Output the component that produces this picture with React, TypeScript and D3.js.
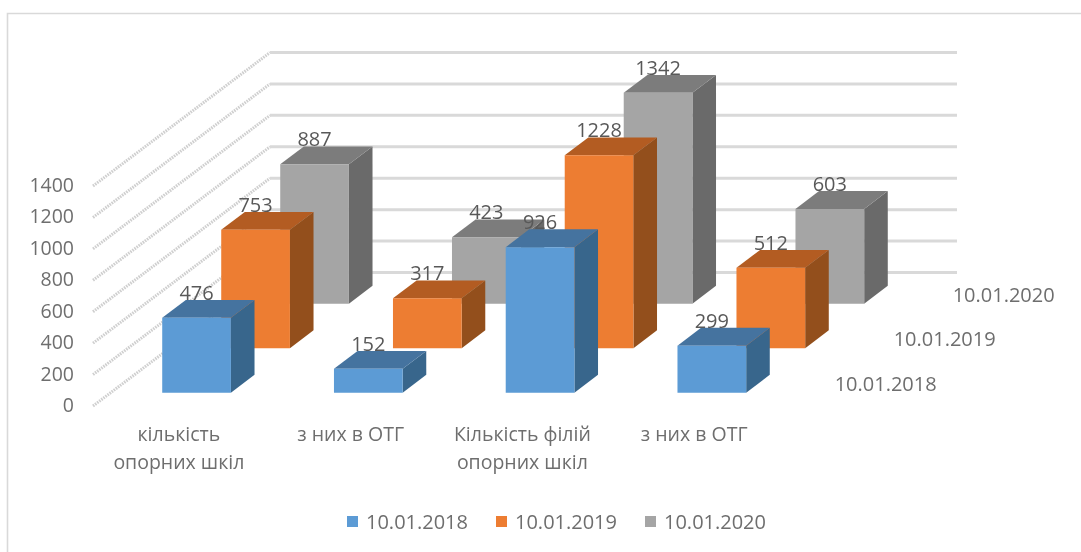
import React, { useEffect, useRef } from "react";
import * as d3 from "d3";

const categories = ["кількість опорних шкіл", "з них в ОТГ", "Кількість філій опорних шкіл", "з них в ОТГ "];
const categoryLines = [["кількість", "опорних шкіл"], ["з них в ОТГ"], ["Кількість філій", "опорних шкіл"], ["з них в ОТГ"]];
const seriesNames = ["10.01.2018", "10.01.2019", "10.01.2020"];
const values2018 = [476, 152, 926, 299];
const values2019 = [753, 317, 1228, 512];
const values2020 = [887, 423, 1342, 603];
const allValues = [values2018, values2019, values2020];
const yTicks = [0, 200, 400, 600, 800, 1000, 1200, 1400];

const frontColors = ["#5b9bd5", "#ed7d31", "#a5a5a5"];
const topColors = ["#44739f", "#b35c20", "#7c7c7c"];
const sideColors = ["#38668c", "#934f1b", "#6a6a6a"];
const legendColors = ["#5b9bd5", "#ed7d31", "#a5a5a5"];

const FONT = "'Open Sans', sans-serif";

const App = () => {
  const svgRef = useRef<SVGSVGElement>(null);

  useEffect(() => {
    const root = d3.select(svgRef.current);
    root.selectAll("*").remove();

    // the reference is a slightly soft screenshot
    root.append("defs")
      .append("filter")
      .attr("id", "soft")
      .attr("filterUnits", "userSpaceOnUse")
      .attr("x", 0)
      .attr("y", 0)
      .attr("width", 1081)
      .attr("height", 552)
      .append("feGaussianBlur")
      .attr("stdDeviation", 0.45);

    const svg = root.append("g").attr("filter", "url(#soft)");

    // projection of the 3D box: origin is the front-left floor corner
    const originX = 93;
    const originY = 406;
    const depthX = 177;
    const depthY = -133.5;

    const x = d3.scaleBand().domain(categories).range([0, 687]).paddingInner(0.6).paddingOuter(0.3);
    const z = d3.scaleBand().domain(seriesNames).range([0, 1]).paddingInner(0.6).paddingOuter(0.3);
    const y = d3.scaleLinear().domain([0, 1400]).range([0, -220]);

    const project = (px: number, pz: number, v: number): [number, number] => [
      originX + px + pz * depthX,
      originY + pz * depthY + y(v),
    ];
    const poly = (pts: [number, number][]) => pts.map((p) => p.join(",")).join(" ");

    // only the top and left edges of the chart frame are in the picture
    svg.append("path")
      .attr("d", "M7.5,552V13.5H1081")
      .attr("fill", "none")
      .attr("stroke", "#d9d9d9")
      .attr("stroke-width", 1.6);

    // gridlines: hatched on the side wall, solid on the back wall
    yTicks.forEach((t) => {
      const a = project(0, 0, t);
      const b = project(0, 1, t);
      const c = project(687, 1, t);
      svg.append("line")
        .attr("x1", a[0]).attr("y1", a[1]).attr("x2", b[0]).attr("y2", b[1])
        .attr("stroke", "#cfcfcf")
        .attr("stroke-width", 3)
        .attr("stroke-dasharray", "1.6 1");
      svg.append("line")
        .attr("x1", b[0]).attr("y1", b[1]).attr("x2", c[0]).attr("y2", c[1])
        .attr("stroke", "#d9d9d9")
        .attr("stroke-width", 3);
    });

    // bars, back series first
    const labels: { x: number; y: number; text: number }[] = [];
    [2, 1, 0].forEach((s) => {
      const name = seriesNames[s];
      const z0 = z(name)!;
      const z1 = z0 + z.bandwidth();
      allValues[s].forEach((v, i) => {
        const x0 = x(categories[i])!;
        const x1 = x0 + x.bandwidth();
        svg.append("polygon")
          .attr("points", poly([project(x1, z0, 0), project(x1, z1, 0), project(x1, z1, v), project(x1, z0, v)]))
          .attr("fill", sideColors[s]);
        svg.append("polygon")
          .attr("points", poly([project(x0, z0, v), project(x1, z0, v), project(x1, z1, v), project(x0, z1, v)]))
          .attr("fill", topColors[s]);
        svg.append("polygon")
          .attr("points", poly([project(x0, z0, 0), project(x1, z0, 0), project(x1, z0, v), project(x0, z0, v)]))
          .attr("fill", frontColors[s]);
        const top = project((x0 + x1) / 2, z0, v);
        labels.push({ x: top[0], y: top[1] - 18, text: v });
      });
    });

    svg.append("g")
      .selectAll("text")
      .data(labels)
      .join("text")
      .attr("x", (d) => d.x)
      .attr("y", (d) => d.y)
      .attr("text-anchor", "middle")
      .attr("font-family", FONT)
      .attr("font-size", 20)
      .attr("fill", "#595959")
      .text((d) => d.text);

    // value axis labels
    svg.append("g")
      .selectAll("text")
      .data(yTicks)
      .join("text")
      .attr("x", 74)
      .attr("y", (d) => project(0, 0, d)[1] + 6)
      .attr("text-anchor", "end")
      .attr("font-family", FONT)
      .attr("font-size", 19.5)
      .attr("fill", "#6e6e6e")
      .text((d) => d);

    // category labels
    categoryLines.forEach((lines, i) => {
      const cx = originX + x(categories[i])! + x.bandwidth() / 2;
      lines.forEach((line, j) => {
        svg.append("text")
          .attr("x", cx)
          .attr("y", 441 + j * 28)
          .attr("text-anchor", "middle")
          .attr("font-family", FONT)
          .attr("font-size", 19.5)
          .attr("fill", "#6e6e6e")
          .text(line);
      });
    });

    // series (depth) labels
    seriesNames.forEach((name) => {
      const p = project(687, z(name)!, 0);
      svg.append("text")
        .attr("x", p[0] + 37)
        .attr("y", p[1] - 2)
        .attr("font-family", FONT)
        .attr("font-size", 20)
        .attr("fill", "#6e6e6e")
        .text(name);
    });

    // legend
    const legendX = d3.scalePoint().domain(seriesNames).range([347, 645]);
    seriesNames.forEach((name, s) => {
      const lx = legendX(name)!;
      svg.append("rect")
        .attr("x", lx)
        .attr("y", 516)
        .attr("width", 11)
        .attr("height", 11)
        .attr("fill", legendColors[s]);
      svg.append("text")
        .attr("x", lx + 19)
        .attr("y", 529)
        .attr("font-family", FONT)
        .attr("font-size", 20)
        .attr("fill", "#6e6e6e")
        .text(name);
    });
  }, []);

  return (
    <svg
      ref={svgRef}
      width={1081}
      height={552}
      style={{ position: "fixed", left: 0, top: 0, display: "block", background: "#fff" }}
    />
  );
};

export default App;
